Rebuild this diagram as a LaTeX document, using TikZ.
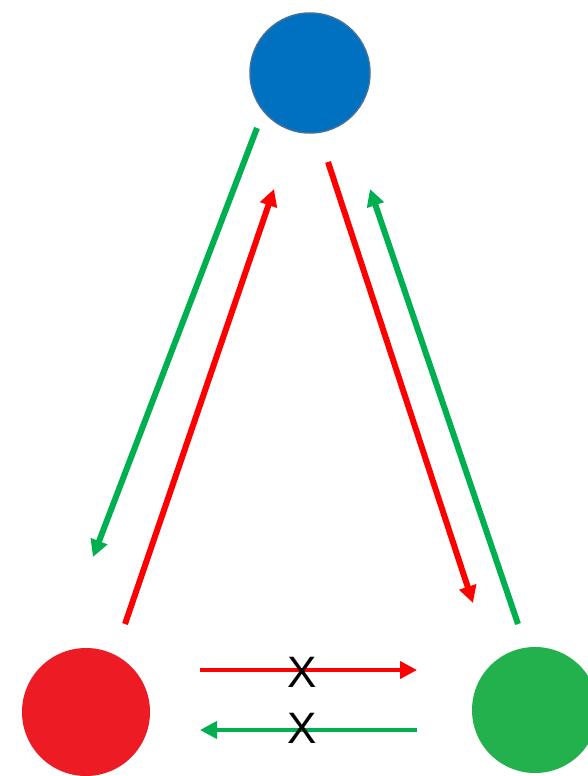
\documentclass[tikz,border=0pt]{standalone}
\usepackage{fontspec}
\setmainfont{Liberation Sans}
\usetikzlibrary{arrows.meta}
\definecolor{ballblue}{HTML}{0070C0}
\definecolor{ballrim}{HTML}{41719C}
\definecolor{ballred}{HTML}{ED1C24}
\definecolor{ballgreen}{HTML}{22B14C}
\definecolor{flowred}{HTML}{FF0000}
\definecolor{flowgreen}{HTML}{00B050}
\tikzset{
    ball/.style={circle,minimum size=#1,inner sep=0pt},
    flow/.style={line width=6pt,-{Triangle[length=17pt,width=17pt]}},
    cross/.style={inner sep=0pt,font=\fontsize{44}{44}\selectfont}
}
\begin{document}
\begin{tikzpicture}[x=1pt,y=-1pt]
        % Frame of the picture, y runs downwards
        \useasboundingbox (0,0) rectangle (588,776);
        \clip (0,0) rectangle (588,776);

        % Three balls
        \node[ball=120pt,fill=ballblue,draw=ballrim,line width=1.5pt] (Blue) at (310,73) {};
        \node[ball=128pt,fill=ballred] (Red) at (86,712) {};
        \node[ball=126pt,fill=ballgreen] (Green) at (535,710) {};

        % Ends of the flows
        \coordinate (BlueOutL) at (257,128);
        \coordinate (RedIn)    at (93,557);
        \coordinate (RedOut)   at (125,624);
        \coordinate (BlueInL)  at (274,189);
        \coordinate (BlueOutR) at (328,162);
        \coordinate (GreenIn)  at (473,603);
        \coordinate (GreenOut) at (518,624);
        \coordinate (BlueInR)  at (370,189);

        \coordinate (RedRight)   at (200,670);
        \coordinate (GreenLeft)  at (417,670);
        \coordinate (GreenRight) at (417,730);
        \coordinate (RedLeft)    at (200,730);

        \foreach \a/\b/\c in {BlueOutL/RedIn/flowgreen,RedOut/BlueInL/flowred,
            BlueOutR/GreenIn/flowred,GreenOut/BlueInR/flowgreen}
        {
            \draw [flow,draw=\c,fill=\c] (\a) -- (\b);
        }

        % Blocked flows between red and green
        \draw [flow,line width=4pt,draw=flowred,fill=flowred] (RedRight) -- (GreenLeft);
        \draw [flow,line width=4pt,draw=flowgreen,fill=flowgreen] (GreenRight) -- (RedLeft);

        \node[cross] (CrossTop) at (302,672) {X};
        \node[cross] (CrossBottom) at (302,728) {X};
    \end{tikzpicture}
\end{document}
